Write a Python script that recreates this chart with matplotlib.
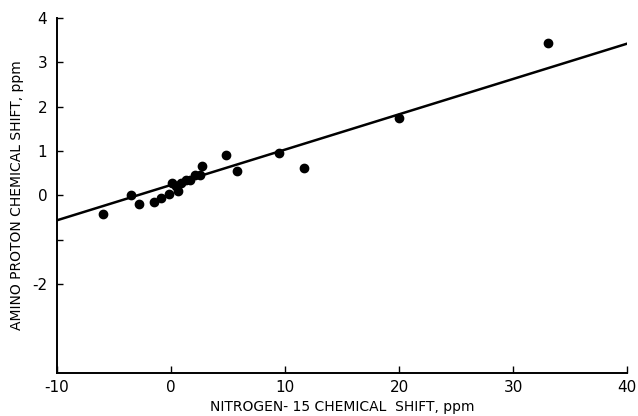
import matplotlib
matplotlib.use("Agg")
import matplotlib.pyplot as plt

# Data
nitrogen_shift = [-6.0, -3.5, -2.85, -1.45, -0.9, -0.15, 0.13, 0.4, 0.57, 0.9,
                  1.3, 1.7, 2.1, 2.5, 2.7, 4.8, 5.75, 9.5, 11.7, 20.0, 33.1]
proton_shift = [-0.42, 0.01, -0.19, -0.15, -0.06, 0.03, 0.29, 0.21, 0.10, 0.29,
                0.35, 0.35, 0.46, 0.46, 0.66, 0.90, 0.56, 0.96, 0.61, 1.75, 3.44]

# Regression line end points
fit_x = [-10, 40]
fit_y = [-0.56, 3.42]

x_ticks = [-10, 0, 10, 20, 30, 40]
y_ticks = [-4, -3, -2, -1, 0, 1, 2, 3, 4]
y_tick_labels = ["", "", "-2", "", "0", "1", "2", "3", "4"]

fig = plt.figure(figsize=(6.38, 4.16), dpi=100)
ax = fig.add_axes([0.0893, 0.1034, 0.8937, 0.8536])

ax.plot(fit_x, fit_y, color="black", linewidth=1.8, zorder=2)
ax.scatter(nitrogen_shift, proton_shift, s=36, color="black", zorder=3)

ax.set_xlim(-10, 40)
ax.set_ylim(-4, 4)

ax.set_xticks(x_ticks)
ax.set_xticklabels([str(t) for t in x_ticks])
ax.set_yticks(y_ticks)
ax.set_yticklabels(y_tick_labels)

ax.spines["top"].set_visible(False)
ax.spines["right"].set_visible(False)
ax.spines["left"].set_linewidth(1.4)
ax.spines["bottom"].set_linewidth(1.4)

ax.tick_params(axis="both", direction="in", width=1.0, labelsize=11, colors="black")
ax.tick_params(axis="x", length=5, pad=5)
ax.tick_params(axis="y", length=4, pad=7)
# no tick at -4 and -3 on the y axis
for t in ax.yaxis.get_major_ticks()[:2]:
    t.tick1line.set_visible(False)

ax.set_xlabel("NITROGEN- 15 CHEMICAL  SHIFT, ppm", fontsize=10, labelpad=4)
ax.set_ylabel("AMINO PROTON CHEMICAL SHIFT, ppm", fontsize=10, labelpad=6)

fig.savefig("out.png", dpi=100)
